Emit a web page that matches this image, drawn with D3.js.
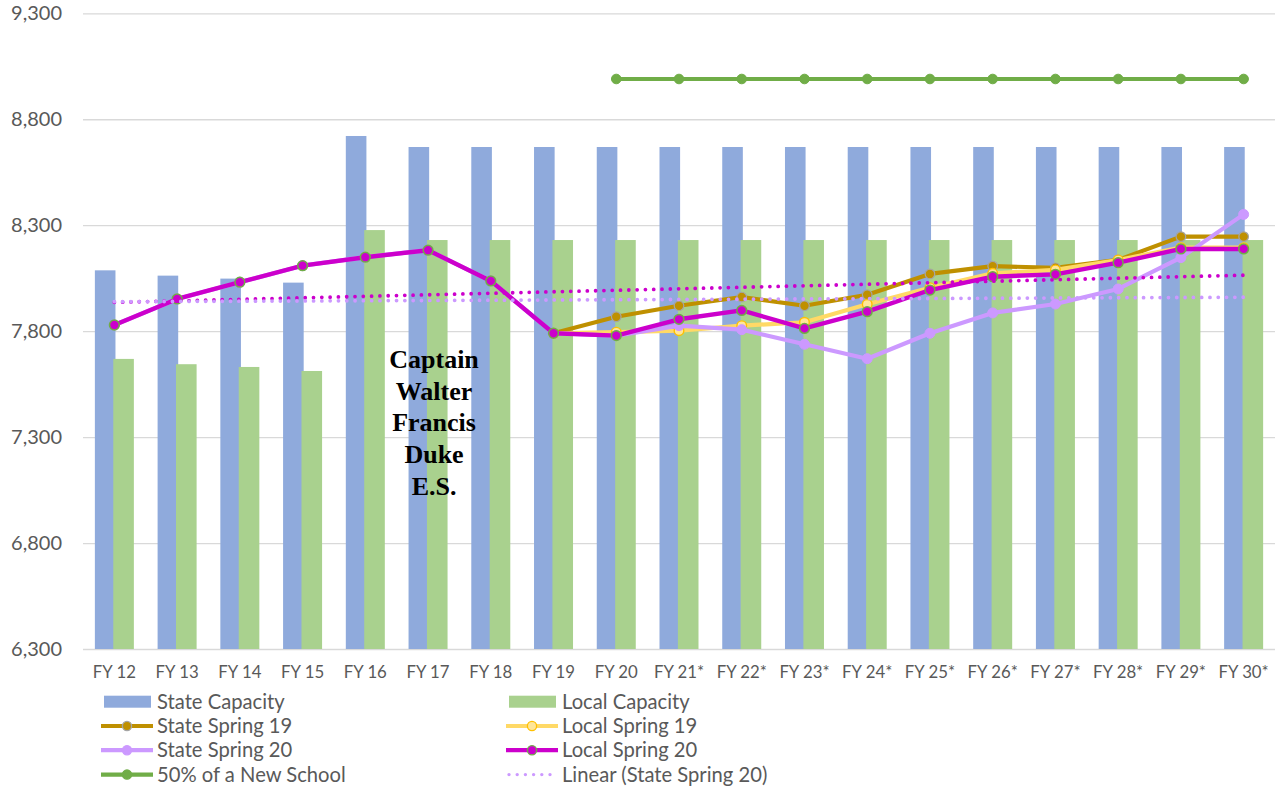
<!DOCTYPE html>
<html>
<head>
<meta charset="utf-8">
<script src="https://cdn.jsdelivr.net/npm/d3@7/dist/d3.min.js"></script>
<style>
  html, body { margin: 0; padding: 0; background: #ffffff; }
  svg { display: block; }
</style>
</head>
<body>
<svg id="chart" width="1280" height="790"></svg>
<script>
// ---------------- DATA ----------------
const categories = ["FY 12","FY 13","FY 14","FY 15","FY 16","FY 17","FY 18","FY 19","FY 20",
  "FY 21*","FY 22*","FY 23*","FY 24*","FY 25*","FY 26*","FY 27*","FY 28*","FY 29*","FY 30*"];

const stateCapacity = [8087, 8062, 8048, 8029, 8721, 8669, 8669, 8669, 8669, 8669, 8669, 8669, 8669, 8669, 8669, 8669, 8669, 8669, 8669];
const localCapacity = [7669, 7644, 7631, 7612, 8277, 8230, 8230, 8230, 8230, 8230, 8230, 8230, 8230, 8230, 8230, 8230, 8230, 8230, 8230];

const stateSpring19 = [null, null, null, null, null, null, null, 7790, 7868, 7920, 7961, 7920, 7972, 8070, 8107, 8099, 8136, 8246, 8246];
const localSpring19 = [null, null, null, null, null, null, null, 7790, 7795, 7802, 7826, 7842, 7927, 8005, 8073, 8089, 8136, 8194, 8194];
const stateSpring20 = [7829, 7952, 8031, 8109, 8149, 8182, 8037, 7790, 7779, 7826, 7807, 7738, 7670, 7790, 7886, 7928, 7999, 8147, 8351];
const localSpring20 = [7829, 7952, 8031, 8109, 8149, 8182, 8037, 7790, 7779, 7856, 7898, 7813, 7892, 7994, 8057, 8068, 8123, 8188, 8188];
const newSchool50   = [null, null, null, null, null, null, null, null, 8990, 8990, 8990, 8990, 8990, 8990, 8990, 8990, 8990, 8990, 8990];

// trend lines (first and last category)
const trendCats = ["FY 12", "FY 30*"];
const trendLocalSpring20 = [7936, 8064];
const trendStateSpring20 = [7939, 7960];

const yTicks = [6300, 6800, 7300, 7800, 8300, 8800, 9300];
const annotationLines = ["Captain", "Walter", "Francis", "Duke", "E.S."];

const legendItems = [
  {name: "State Capacity", type: "bar", color: "#8faadc"},
  {name: "Local Capacity", type: "bar", color: "#a9d18e"},
  {name: "State Spring 19", type: "line", color: "#bf9000", mfill: "#bf9000", mstroke: "#a5a5a5"},
  {name: "Local Spring 19", type: "line", color: "#ffd966", mfill: "#ffe699", mstroke: "#ffc000"},
  {name: "State Spring 20", type: "line", color: "#cc99ff", mfill: "#cc99ff", mstroke: "#cc99ff"},
  {name: "Local Spring 20", type: "line", color: "#cc00cc", mfill: "#cc00cc", mstroke: "#70ad47"},
  {name: "50% of a New School", type: "line", color: "#70ad47", mfill: "#70ad47", mstroke: "#70ad47"},
  {name: "Linear (State Spring 20)", type: "dots", color: "#cc99ff"}
];

// ---------------- LAYOUT ----------------
const svg = d3.select("#chart");
const plot = {left: 83, right: 1275, top: 13.3, bottom: 649};
const FONT = "Lato, 'Open Sans', sans-serif";

const x = d3.scaleBand().domain(categories).range([plot.left, plot.right]).padding(0);
const cx = c => x(c) + x.bandwidth() / 2;
const y = d3.scaleLinear().domain([6300, 9300]).range([plot.bottom, plot.top]);

// gridlines
svg.append("g")
  .attr("transform", `translate(${plot.left},0)`)
  .call(d3.axisLeft(y).tickValues(yTicks).tickSize(-(plot.right - plot.left)).tickFormat(""))
  .call(g => g.select(".domain").remove())
  .call(g => g.selectAll("line").attr("stroke", "#d9d9d9").attr("stroke-width", 1.3));

// y axis labels
svg.append("g")
  .attr("transform", `translate(${plot.left},0)`)
  .call(d3.axisLeft(y).tickValues(yTicks).tickSize(0).tickPadding(21).tickFormat(d3.format(",")))
  .call(g => g.select(".domain").remove())
  .call(g => g.selectAll("text").attr("fill", "#595959").style("font-family", FONT).style("font-size", "20px"));

// bars
const barW = 20.6, overlap = 2.2;
svg.append("g").selectAll("rect.state")
  .data(categories.map((c, i) => ({c, v: stateCapacity[i]})))
  .join("rect")
  .attr("x", d => cx(d.c) - barW + overlap / 2)
  .attr("y", d => y(d.v))
  .attr("width", barW)
  .attr("height", d => y(6300) - y(d.v))
  .attr("fill", "#8faadc");

svg.append("g").selectAll("rect.local")
  .data(categories.map((c, i) => ({c, v: localCapacity[i]})))
  .join("rect")
  .attr("x", d => cx(d.c) - overlap / 2)
  .attr("y", d => y(d.v))
  .attr("width", barW)
  .attr("height", d => y(6300) - y(d.v))
  .attr("fill", "#a9d18e");

// x axis labels
svg.append("g")
  .attr("transform", `translate(0,${plot.bottom})`)
  .call(d3.axisBottom(x).tickSize(0).tickPadding(17))
  .call(g => g.select(".domain").remove())
  .call(g => g.selectAll("text").attr("fill", "#595959").style("font-family", FONT).style("font-size", "16.8px"));

// trend lines
function trend(vals, color) {
  const pts = trendCats.map((c, i) => [cx(c), y(vals[i])]);
  svg.append("path")
    .attr("d", d3.line()(pts))
    .attr("fill", "none")
    .attr("stroke", color)
    .attr("stroke-width", 3.8)
    .attr("stroke-linecap", "round")
    .attr("stroke-dasharray", "0 8.3");
}

// line series
function series(vals, color, width, r, mfill, mstroke, mstrokeW) {
  const data = categories.map((c, i) => ({c, v: vals[i]})).filter(d => d.v != null);
  const line = d3.line().x(d => cx(d.c)).y(d => y(d.v));
  const g = svg.append("g");
  g.append("path").attr("d", line(data)).attr("fill", "none")
    .attr("stroke", color).attr("stroke-width", width).attr("stroke-linejoin", "round");
  g.selectAll("circle").data(data).join("circle")
    .attr("cx", d => cx(d.c)).attr("cy", d => y(d.v)).attr("r", r)
    .attr("fill", mfill).attr("stroke", mstroke).attr("stroke-width", mstrokeW);
}

series(stateSpring19, "#bf9000", 4.2, 4.8, "#bf9000", "#a5a5a5", 1.2);
series(localSpring19, "#ffd966", 4.2, 4.8, "#ffe699", "#ffc000", 1.4);
series(stateSpring20, "#cc99ff", 4.2, 5, "#cc99ff", "#cc99ff", 1);
series(localSpring20, "#cc00cc", 4.4, 4.9, "#cc00cc", "#70ad47", 1.5);
series(newSchool50, "#70ad47", 4, 4.8, "#70ad47", "#70ad47", 1);
trend(trendLocalSpring20, "#cc00cc");
trend(trendStateSpring20, "#cc99ff");

// annotation
const ann = svg.append("text")
  .attr("x", cx("FY 17") + 6)
  .attr("y", 368)
  .attr("text-anchor", "middle")
  .style("font-family", "'Liberation Serif', 'Times New Roman', serif")
  .style("font-weight", "bold")
  .style("font-size", "26px")
  .attr("fill", "#000");
ann.selectAll("tspan").data(annotationLines).join("tspan")
  .attr("x", cx("FY 17") + 6)
  .attr("dy", (d, i) => i === 0 ? 0 : 31.7)
  .text(d => d);

// legend
const legCols = [101, 506];
const legRows = [701.7, 726, 750.2, 774.6];
const leg = svg.append("g");
legendItems.forEach((it, i) => {
  const lx = legCols[i % 2], ly = legRows[Math.floor(i / 2)];
  const g = leg.append("g");
  if (it.type === "bar") {
    g.append("rect").attr("x", lx + 3).attr("y", ly - 6).attr("width", 47).attr("height", 12).attr("fill", it.color);
  } else if (it.type === "line") {
    g.append("line").attr("x1", lx).attr("x2", lx + 52).attr("y1", ly).attr("y2", ly)
      .attr("stroke", it.color).attr("stroke-width", 4.2);
    g.append("circle").attr("cx", lx + 26).attr("cy", ly).attr("r", 4.6)
      .attr("fill", it.mfill).attr("stroke", it.mstroke).attr("stroke-width", 1.3);
  } else {
    g.append("line").attr("x1", lx + 3).attr("x2", lx + 50).attr("y1", ly).attr("y2", ly)
      .attr("stroke", it.color).attr("stroke-width", 3.4).attr("stroke-linecap", "round")
      .attr("stroke-dasharray", "0 8.2");
  }
  g.append("text").attr("x", lx + 56).attr("y", ly).attr("dy", "0.36em")
    .attr("fill", "#595959").style("font-family", FONT).style("font-size", "20.2px")
    .text(it.name);
});
</script>
</body>
</html>
